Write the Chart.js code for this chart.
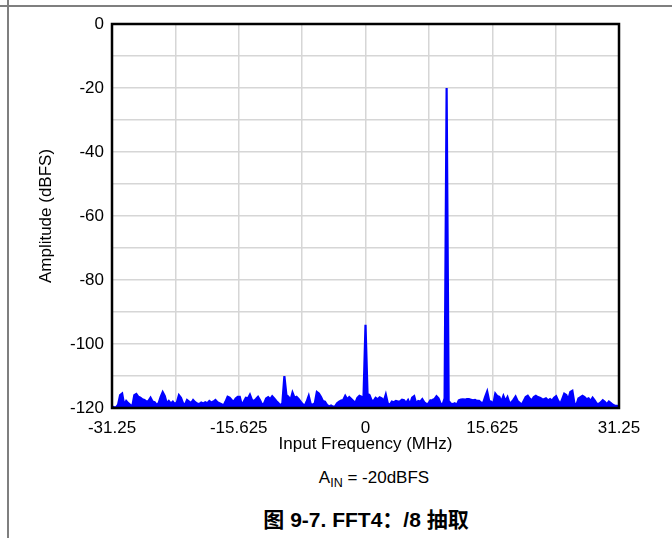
<!DOCTYPE html>
<html>
<head>
<meta charset="utf-8">
<script src="https://cdn.jsdelivr.net/npm/chart.js@4.4.1/dist/chart.umd.min.js"></script>
<style>
  body { margin: 0; background: #fff; }
  #page { position: relative; width: 672px; height: 538px; overflow: hidden; font-family: "Liberation Sans", Arial, sans-serif; }
  #hline { position: absolute; left: 0; top: 5px; width: 672px; height: 1.5px; background: #7f7f7f; }
  #vline { position: absolute; left: 7px; top: 0; width: 1.5px; height: 538px; background: #7f7f7f; }
  #box { position: absolute; left: 0; top: 0; width: 672px; height: 460px; }
  #ain { position: absolute; left: 374px; top: 468px; transform: translateX(-50%); font-size: 17px; line-height: 20px; white-space: nowrap; color: #000; }
  #ain sub { font-size: 12.5px; vertical-align: -4px; line-height: 0; }
  #caption { position: absolute; left: 366px; top: 507px; transform: translateX(-50%); font-size: 21px; line-height: 26px; font-weight: bold; white-space: nowrap; color: #000;
             font-family: "Liberation Sans", Arial, "Noto Sans CJK SC", sans-serif; }
</style>
</head>
<body>
<div id="page">
  <div id="hline"></div>
  <div id="vline"></div>
  <div id="box"><canvas id="fftChart"></canvas></div>
  <div id="ain">A<sub>IN</sub> = -20dBFS</div>
  <div id="caption">图 9-7. FFT4：/8 抽取</div>
</div>
<script>
//------------------ data ------------------//
// FFT bins: -31.25 MHz .. 31.25 MHz, 0.25 MHz apart (251 bins)
const BIN_START_MHZ = -31.25
const BIN_STEP_MHZ = 0.25
// amplitude of each bin (dBFS)
const amplitudeDbfs = [
  -119.5, -119.8, -119.8, -119, -116, -115.5, -119, -117.8, -118.5, -119,
  -119.5, -116, -115.6, -116.5, -116.8, -117.3, -117.5, -118, -117.8, -116.8,
  -118, -118.2, -119, -118.5, -116.5, -115, -116.2, -118.5, -117.8, -118.6,
  -118, -118.8, -118.2, -116, -116.8, -118.5, -119, -117.5, -118, -118.5,
  -117.5, -118.2, -118.6, -118.8, -118.3, -118.6, -118.2, -118.5, -117.8, -118.3,
  -118, -117.5, -118.2, -118.5, -118.8, -119.2, -118, -116.5, -116.8, -117.5,
  -118, -117, -116.5, -116.5, -119, -118, -116.8, -117, -115.8, -117.5,
  -117.8, -117.2, -116.5, -117.6, -119, -118.6, -117, -116.6, -117.2, -116.3,
  -117, -117.8, -118.4, -119.2, -118.5, -110, -116, -116.5, -117.6, -115.2,
  -116.8, -116.5, -117.2, -118, -118.8, -119.3, -118, -116.2, -118.8, -119,
  -118.5, -115, -115.5, -116.5, -117.8, -118, -119, -119.5, -119.2, -119.6,
  -119.5, -118.5, -118, -117.7, -117.5, -116.2, -117.3, -116.6, -117.2, -117.8,
  -118.4, -116.8, -116.2, -116.5, -117, -94, -115.5, -116, -117.6, -117.8,
  -116.8, -117.3, -116.7, -117, -117.8, -115.8, -118.6, -119, -118, -118.2,
  -117.8, -118, -117.9, -117.4, -117.6, -118.4, -117.5, -118.8, -116.8, -116.3,
  -118.6, -117.8, -118, -117.2, -118.2, -118.8, -118.6, -117.6, -117.5, -117.2,
  -116.3, -117, -118.6, -119, -117, -20, -117.8, -118.6, -118.8, -118.5,
  -119, -117.6, -117.4, -117.3, -117.4, -117.2, -117.2, -117.4, -117.6, -117.5,
  -117.8, -117.8, -118.3, -118.5, -116.5, -114.8, -117.8, -118, -118.8, -115.5,
  -116.3, -116.5, -118, -116.2, -117.8, -116.6, -118.5, -118.2, -117.4, -116.4,
  -117.8, -118.4, -119, -117.8, -116.6, -116.2, -117.1, -117.6, -116.6, -116.2,
  -116.6, -116.8, -117.2, -117.3, -117, -117.6, -117.2, -117.7, -116.8, -116.3,
  -117.7, -118.8, -117.2, -115.5, -115.9, -117.3, -115, -114.6, -118.5, -119,
  -117, -116.6, -116.2, -116.6, -117.3, -117, -117.8, -116.8, -117.6, -118.6,
  -118.8, -118.2, -117.6, -118.1, -118.8, -118, -118.5, -119, -119.3, -119.3,
  -119.5
]
// axes
const X_MIN = -31.25, X_MAX = 31.25, X_GRID_STEP = 7.8125   // labels every 2nd line
const Y_MIN = -120, Y_MAX = 0, Y_GRID_STEP = 10              // labels every 20 dB
const X_TITLE = 'Input Frequency (MHz)'
const Y_TITLE = 'Amplitude (dBFS)'
//------------------------------------------//

const points = amplitudeDbfs.map((v, i) => ({x: BIN_START_MHZ + i * BIN_STEP_MHZ, y: v}))

const FONT = {family: '"Liberation Sans", Arial, sans-serif', size: 17}
const GRID = {color: '#d6d6d6', lineWidth: 1.5, drawTicks: false}

// 枠線（プロット領域の四辺）
const framePlugin = {
  id: 'frame',
  afterDatasetsDraw(chart) {
    const a = chart.chartArea, ctx = chart.ctx
    ctx.save()
    ctx.strokeStyle = '#000'
    ctx.lineWidth = 2.5
    ctx.strokeRect(a.left, a.top, a.right - a.left, a.bottom - a.top)
    ctx.restore()
  }
}

new Chart(document.getElementById('fftChart'), {
  type: 'line',
  data: {
    datasets: [{
      data: points,
      borderColor: '#0000ff',
      backgroundColor: '#0000ff',
      borderWidth: 2.2,
      pointRadius: 0,
      tension: 0,
      fill: 'start'
    }]
  },
  options: {
    responsive: true,
    maintainAspectRatio: false,
    animation: false,
    layout: {padding: {left: 0, right: 53, top: 24, bottom: 0}},
    plugins: {legend: {display: false}, tooltip: {enabled: false}},
    scales: {
      x: {
        type: 'linear',
        min: X_MIN, max: X_MAX,
        grid: GRID,
        border: {display: false},
        ticks: {
          stepSize: X_GRID_STEP, autoSkip: false, maxRotation: 0,
          color: '#000', font: FONT, padding: 10,
          callback: (v, i) => (i % 2 === 0 ? String(v) : '')
        },
        title: {display: true, text: X_TITLE, color: '#000', font: FONT, padding: {top: 0, bottom: 5}},
        afterFit: (s) => { s.height = 52 }
      },
      y: {
        min: Y_MIN, max: Y_MAX,
        grid: GRID,
        border: {display: false},
        ticks: {
          stepSize: Y_GRID_STEP, autoSkip: false,
          color: '#000', font: FONT, padding: 8,
          callback: (v) => (v % 20 === 0 ? String(v) : '')
        },
        title: {display: true, text: Y_TITLE, color: '#000', font: FONT, padding: {top: 36, bottom: 0}},
        afterFit: (s) => { s.width = 112 }
      }
    }
  },
  plugins: [framePlugin]
})
</script>
</body>
</html>
